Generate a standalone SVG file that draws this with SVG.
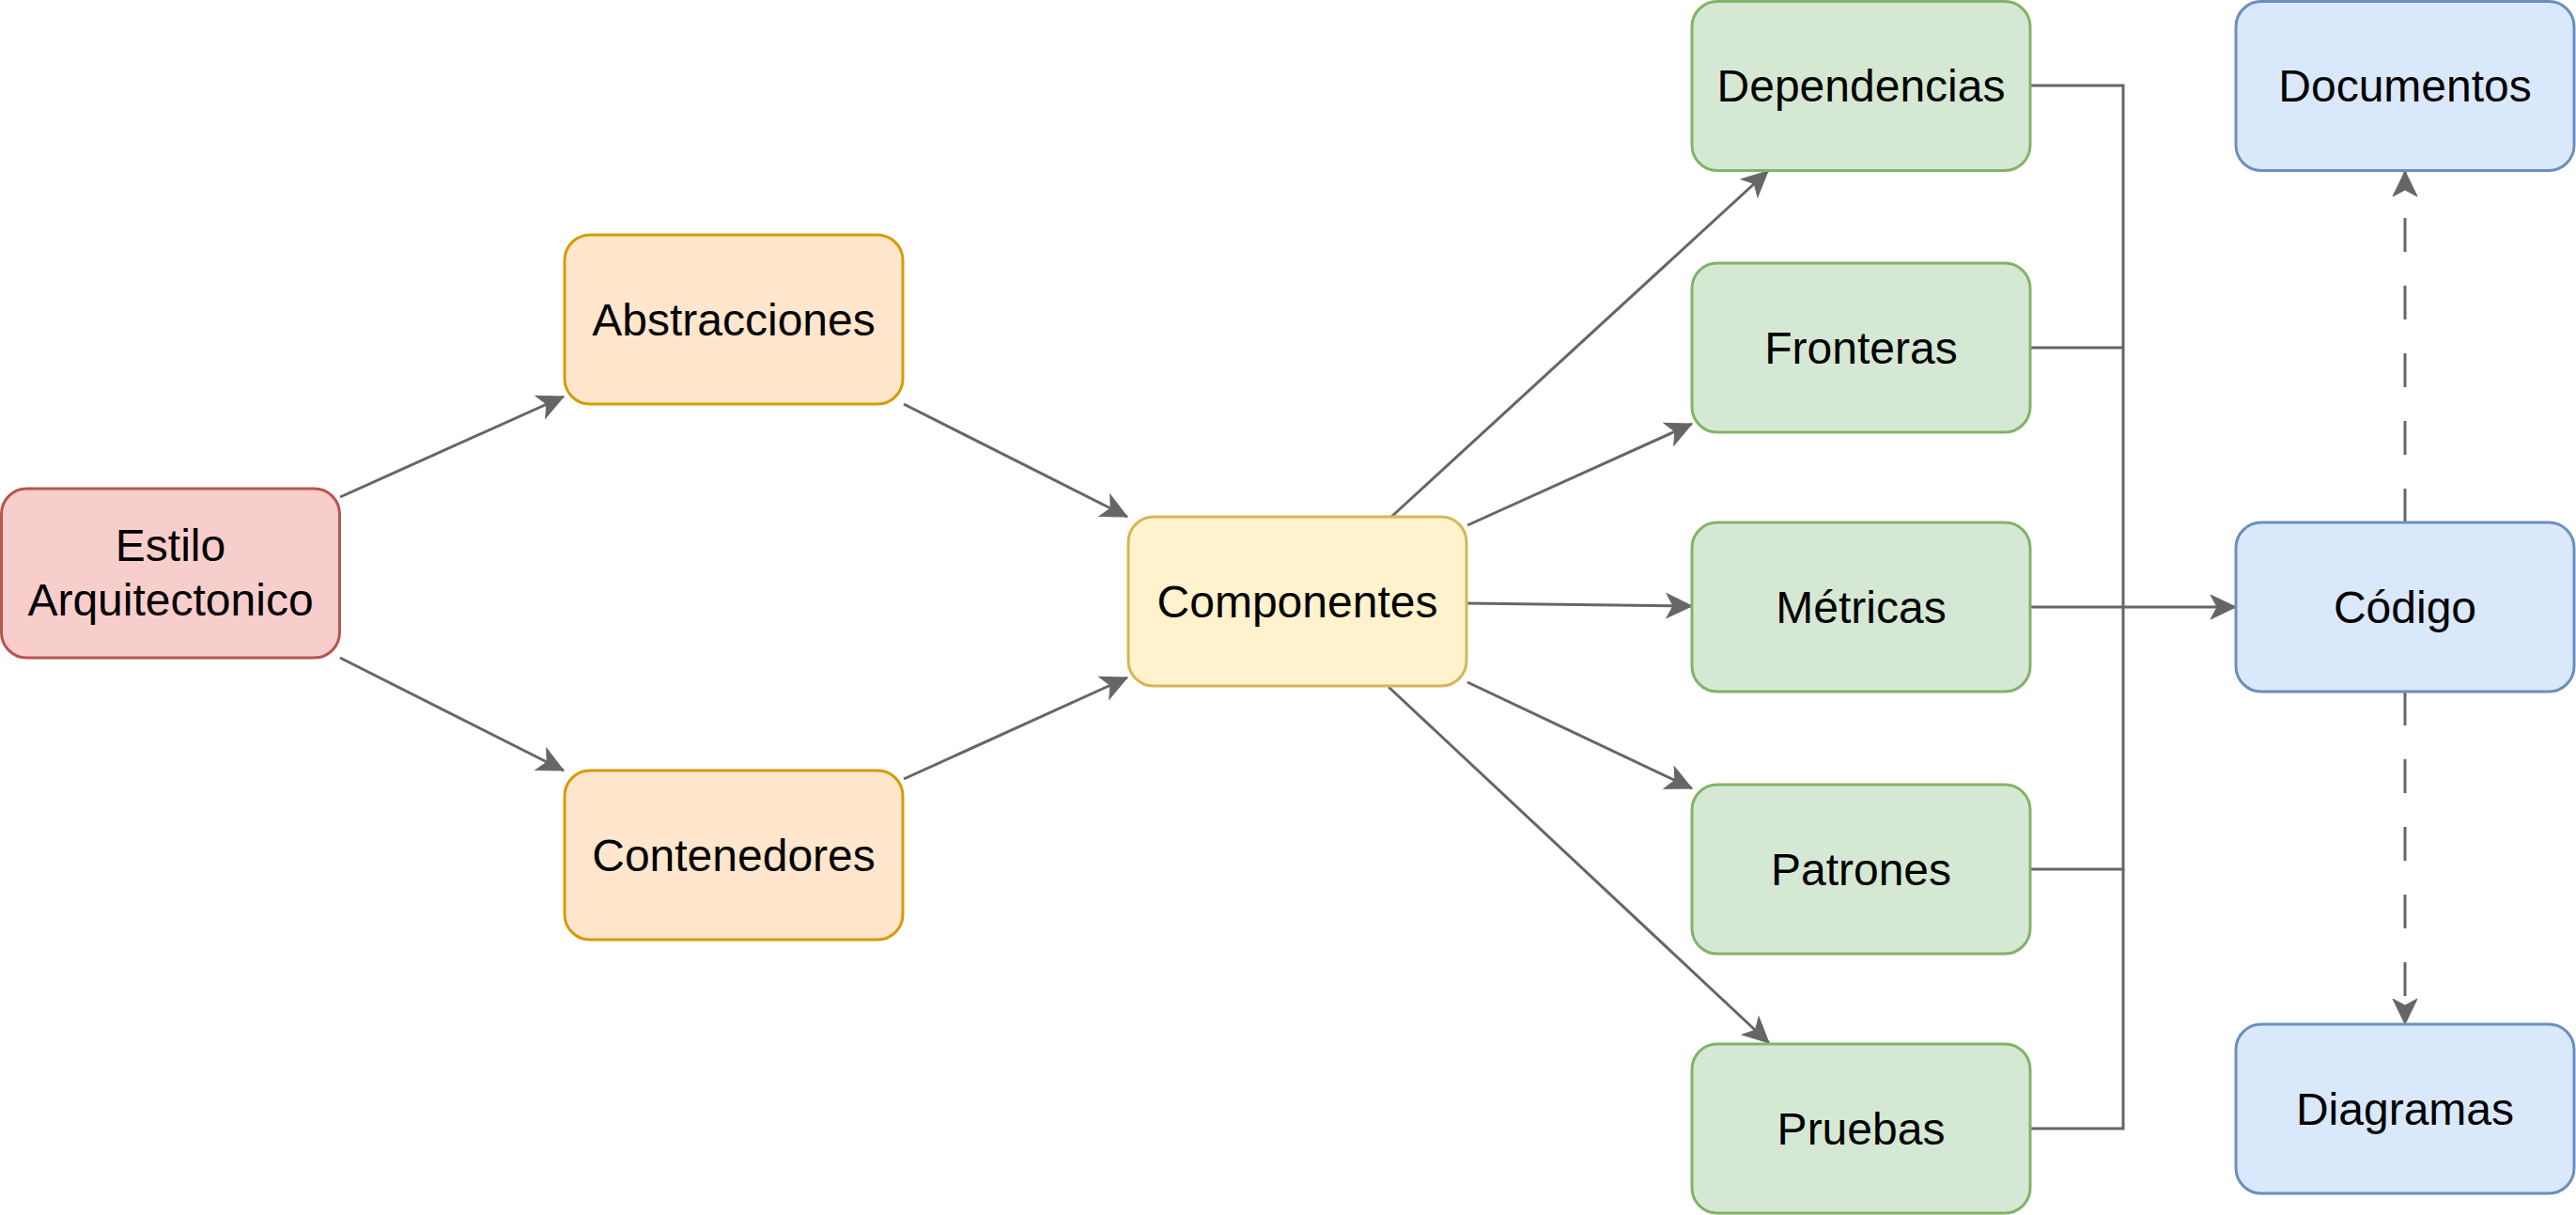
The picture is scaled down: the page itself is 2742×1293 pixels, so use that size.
<svg xmlns="http://www.w3.org/2000/svg" width="2742" height="1293" viewBox="0 0 2742 1293">
<style>
.n rect{stroke-width:3}
.t{font-family:"Liberation Sans",Arial,Helvetica,sans-serif;font-size:48px;fill:#000;text-anchor:middle}
.red rect{fill:#f8cecc;stroke:#b85450}
.org rect{fill:#ffe6cc;stroke:#d79b00}
.yel rect{fill:#fff2cc;stroke:#d6b656}
.grn rect{fill:#d5e8d4;stroke:#82b366}
.blu rect{fill:#dae8fc;stroke:#6c8ebf}
.e{fill:none;stroke:#666666;stroke-width:3}
.d{stroke-dasharray:36 36}
</style>
<defs>
<marker id="a" markerUnits="userSpaceOnUse" markerWidth="30" markerHeight="30" viewBox="-28 -15 30 30" refX="0" refY="0" orient="auto">
<path d="M0,0 L-27,-13 L-20,0 L-27,13 Z" fill="#666666" stroke="#666666" stroke-width="1"/>
</marker>
</defs>
<rect width="2742" height="1293" fill="#ffffff"/>
<g id="connectors">
<path class="e" d="M362,529 L600,422" marker-end="url(#a)"/>
<path class="e" d="M362,700 L600,820" marker-end="url(#a)"/>
<path class="e" d="M962,430 L1200,550" marker-end="url(#a)"/>
<path class="e" d="M962,829 L1200,721" marker-end="url(#a)"/>
<path class="e" d="M1481,550 L1882,182" marker-end="url(#a)"/>
<path class="e" d="M1562,559 L1801,451" marker-end="url(#a)"/>
<path class="e" d="M1562,642 L1801,645" marker-end="url(#a)"/>
<path class="e" d="M1562,726 L1801,839" marker-end="url(#a)"/>
<path class="e" d="M1478,731 L1883,1110" marker-end="url(#a)"/>
<path class="e" d="M2161,91 L2260,91 L2260,646"/>
<path class="e" d="M2161,370 L2260,370"/>
<path class="e" d="M2161,925 L2260,925 L2260,646"/>
<path class="e" d="M2161,1201 L2260,1201 L2260,925"/>
<path class="e" d="M2161,646 L2380,646" marker-end="url(#a)"/>
<path class="e d" d="M2560,556 L2560,182" marker-end="url(#a)"/>
<path class="e d" d="M2560,736 L2560,1090" marker-end="url(#a)"/>
</g>
<g id="estilo" class="n red"><rect x="1.5" y="520" width="360" height="180" rx="27"/><text class="t" x="181.5" y="597">Estilo</text><text class="t" x="181.5" y="655">Arquitectonico</text></g>
<g id="abstracciones" class="n org"><rect x="601" y="250" width="360" height="180" rx="27"/><text class="t" x="781" y="357">Abstracciones</text></g>
<g id="contenedores" class="n org"><rect x="601" y="820" width="360" height="180" rx="27"/><text class="t" x="781" y="927">Contenedores</text></g>
<g id="componentes" class="n yel"><rect x="1201" y="550" width="360" height="180" rx="27"/><text class="t" x="1381" y="657">Componentes</text></g>
<g id="dependencias" class="n grn"><rect x="1801" y="1.5" width="360" height="180" rx="27"/><text class="t" x="1981" y="108">Dependencias</text></g>
<g id="fronteras" class="n grn"><rect x="1801" y="280" width="360" height="180" rx="27"/><text class="t" x="1981" y="387">Fronteras</text></g>
<g id="metricas" class="n grn"><rect x="1801" y="556" width="360" height="180" rx="27"/><text class="t" x="1981" y="663">Métricas</text></g>
<g id="patrones" class="n grn"><rect x="1801" y="835" width="360" height="180" rx="27"/><text class="t" x="1981" y="942">Patrones</text></g>
<g id="pruebas" class="n grn"><rect x="1801" y="1111" width="360" height="180" rx="27"/><text class="t" x="1981" y="1218">Pruebas</text></g>
<g id="documentos" class="n blu"><rect x="2380" y="1.5" width="360" height="180" rx="27"/><text class="t" x="2560" y="108">Documentos</text></g>
<g id="codigo" class="n blu"><rect x="2380" y="556" width="360" height="180" rx="27"/><text class="t" x="2560" y="663">Código</text></g>
<g id="diagramas" class="n blu"><rect x="2380" y="1090" width="360" height="180" rx="27"/><text class="t" x="2560" y="1197">Diagramas</text></g>
</svg>
